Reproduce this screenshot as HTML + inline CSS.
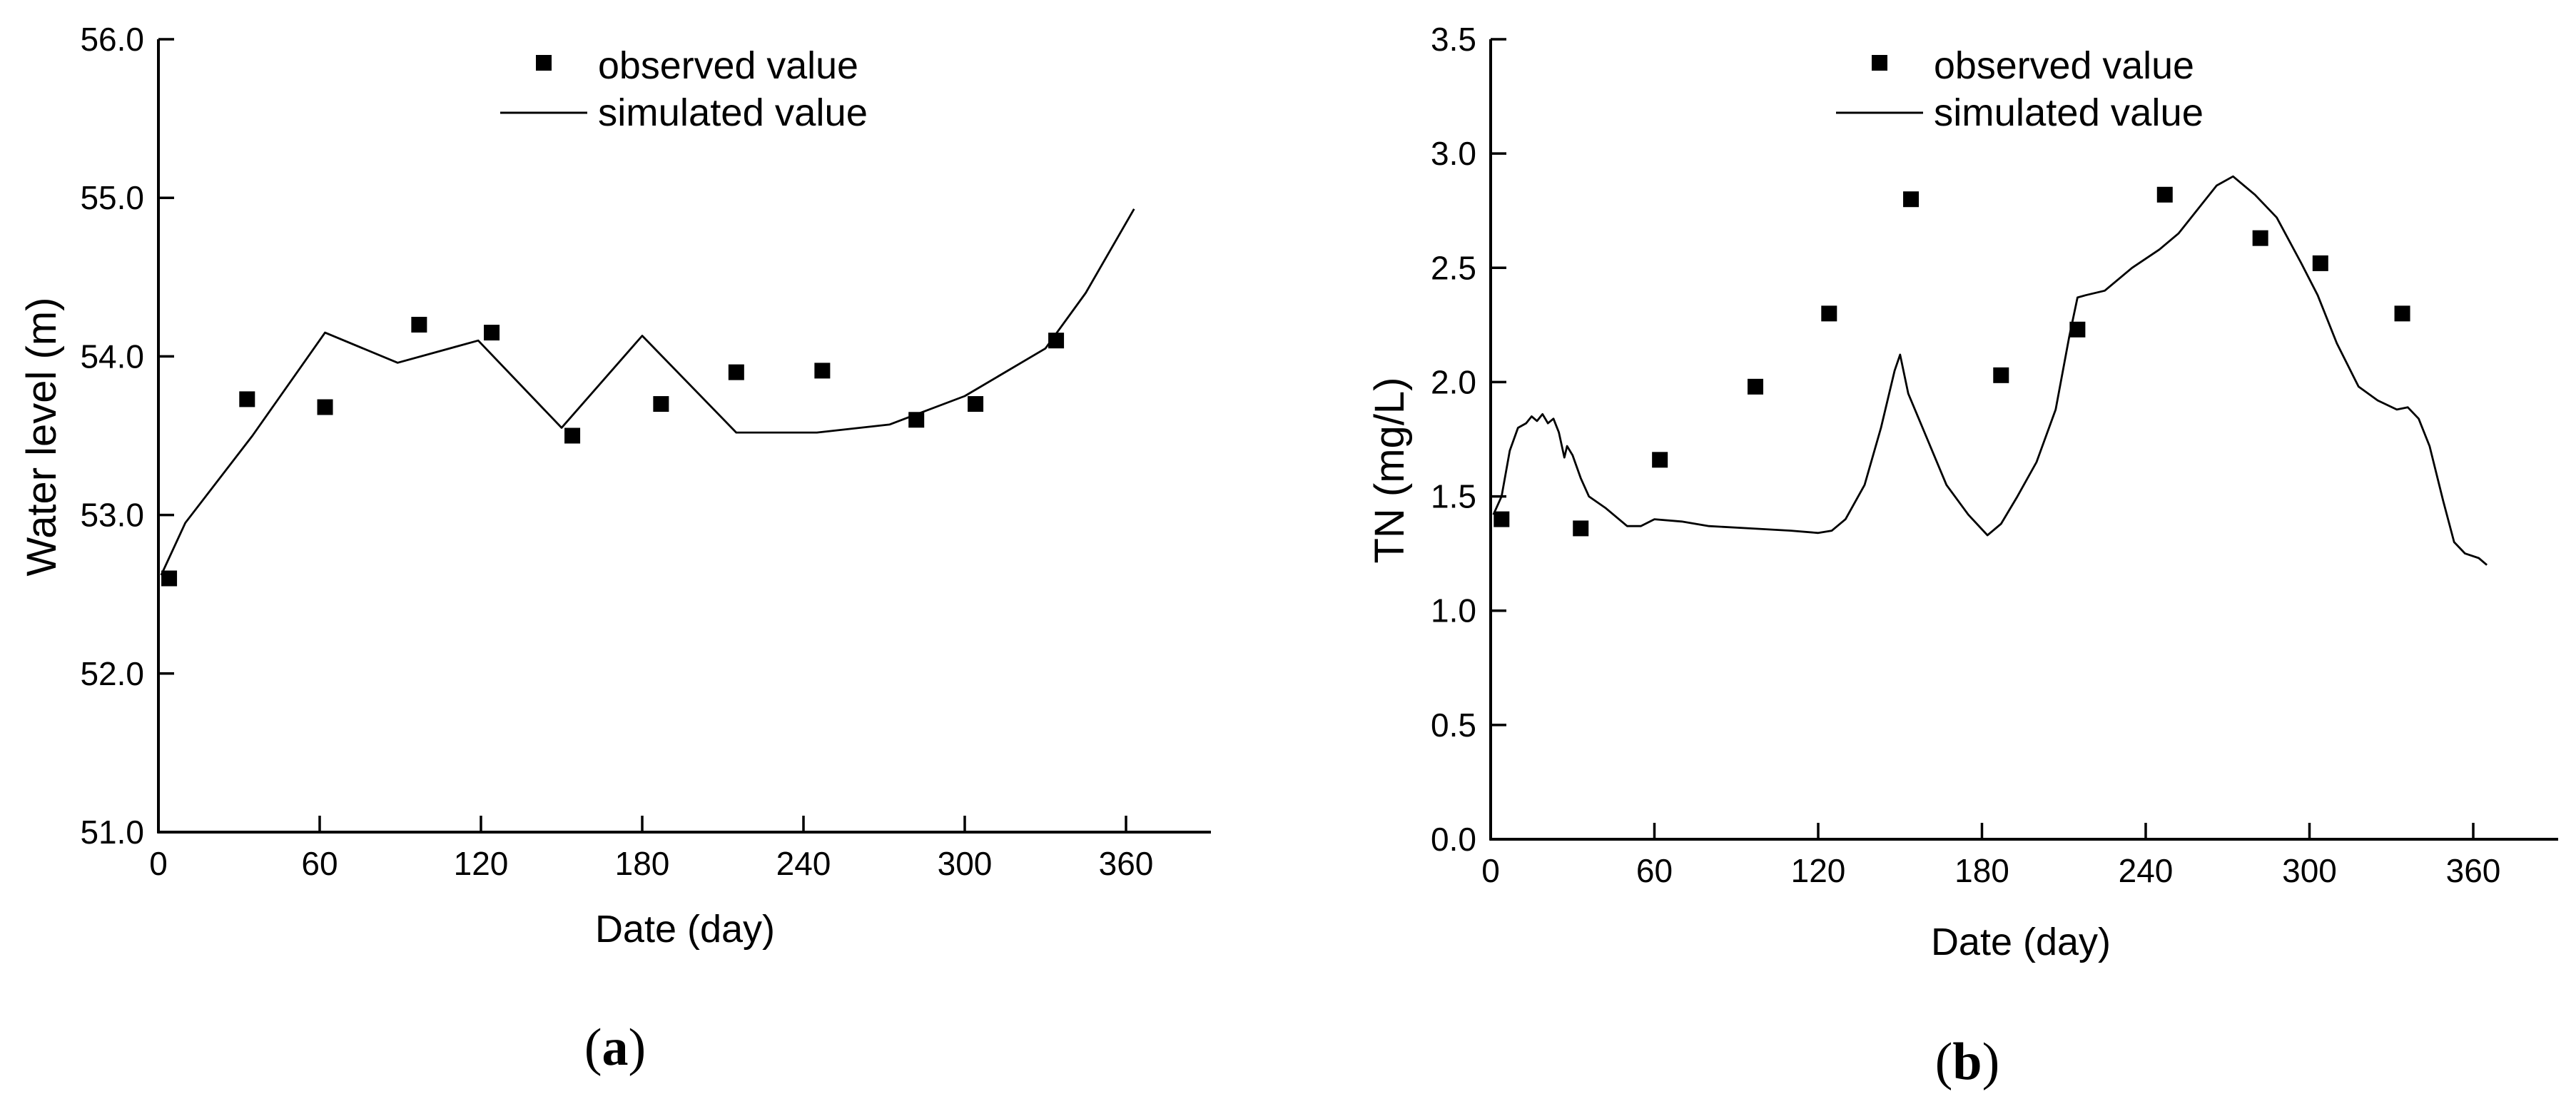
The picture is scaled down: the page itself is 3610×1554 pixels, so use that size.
<!DOCTYPE html>
<html><head><meta charset="utf-8"><style>
html,body{margin:0;padding:0;background:#fff;}
svg{display:block;}
text{font-family:"Liberation Sans",Arial,sans-serif;fill:#000;}
</style></head><body>
<svg id="fig" width="3610" height="1554" viewBox="0 0 3610 1554" xmlns="http://www.w3.org/2000/svg"></svg>
<script>
// Panel (a) data
const aObsDays = [4,33,62,97,124,154,187,215,247,282,304,334];
const aObsVals = [52.6,53.73,53.68,54.2,54.15,53.5,53.7,53.9,53.91,53.6,53.7,54.1];
const aSimDays = [1,10,35,62,89,119,150,180,215,245,272,300,330,345,363];
const aSimVals = [52.62,52.95,53.5,54.15,53.96,54.1,53.55,54.13,53.52,53.52,53.57,53.75,54.05,54.4,54.93];
const aYTicks = [51.0,52.0,53.0,54.0,55.0,56.0];
const xTicks = [0,60,120,180,240,300,360];
// Panel (b) data
const bObsDays = [4,33,62,97,124,154,187,215,247,282,304,334];
const bObsVals = [1.4,1.36,1.66,1.98,2.3,2.8,2.03,2.23,2.82,2.63,2.52,2.3];
const bSimDays = [1,4,7,10,13,15,17,19,21,23,25,27,28,30,33,36,42,50,55,60,70,80,95,110,120,125,130,137,143,148,150,153,160,167,175,182,187,193,200,207,212,215,218,225,235,245,252,260,266,272,280,288,297,303,310,318,325,332,336,340,344,349,353,357,362,365];
const bSimVals = [1.42,1.5,1.7,1.8,1.82,1.85,1.83,1.86,1.82,1.84,1.78,1.67,1.72,1.68,1.58,1.5,1.45,1.37,1.37,1.4,1.39,1.37,1.36,1.35,1.34,1.35,1.4,1.55,1.8,2.05,2.12,1.95,1.75,1.55,1.42,1.33,1.38,1.5,1.65,1.88,2.2,2.37,2.38,2.4,2.5,2.58,2.65,2.77,2.86,2.9,2.82,2.72,2.52,2.38,2.17,1.98,1.92,1.88,1.89,1.84,1.72,1.48,1.3,1.25,1.23,1.2];
const bYTicks = [0.0,0.5,1.0,1.5,2.0,2.5,3.0,3.5];

const NS = "http://www.w3.org/2000/svg";
const svg = document.getElementById('fig');
function mk(tag, attrs, parent, txt){
  const e = document.createElementNS(NS, tag);
  for (const k in attrs) e.setAttribute(k, attrs[k]);
  if (txt !== undefined) e.textContent = txt;
  (parent||svg).appendChild(e);
  return e;
}

function panel(cfg){
  const g = mk('g', {});
  
  
  const X = d => cfg.x0 + (d - 0) * (cfg.x360 - cfg.x0) / 360;
  const Y = v => cfg.yBot + (v - cfg.yMin) * (cfg.yTop - cfg.yBot) / (cfg.yMax - cfg.yMin);
  const yAx = mk('line', {x1:cfg.x0, y1:cfg.yTop, x2:cfg.x0, y2:cfg.yBot+1.5, stroke:'#000','stroke-width':4}, g);
  
  
  const xAx = mk('line', {x1:cfg.x0-1.5, y1:cfg.yBot, x2:cfg.xEnd, y2:cfg.yBot, stroke:'#000','stroke-width':4}, g);
  
  
  cfg.yTicks.forEach(v => {
    const t = mk('line', {x1:cfg.x0, y1:Y(v), x2:cfg.x0+22, y2:Y(v), stroke:'#000','stroke-width':3.5}, g);
    
    
    const l = mk('text', {x:cfg.x0-20, y:Y(v)+16, 'font-size':46, 'text-anchor':'end'}, g, v.toFixed(1));
    
    
  });
  xTicks.forEach(d => {
    if (d > 0) {
      const t = mk('line', {x1:X(d), y1:cfg.yBot, x2:X(d), y2:cfg.yBot-23, stroke:'#000','stroke-width':3.5}, g);
      
      
    }
    const l = mk('text', {x:X(d), y:cfg.yBot+60, 'font-size':46, 'text-anchor':'middle'}, g, String(d));
    
    
  });
  const pts = cfg.simD.map((d,i) => X(d).toFixed(1)+','+Y(cfg.simV[i]).toFixed(1)).join(' ');
  const pl = mk('polyline', {points:pts, fill:'none', stroke:'#000','stroke-width':2.8,'stroke-linejoin':'round'}, g);
  
  
  cfg.obsD.forEach((d,i) => {
    const r = mk('rect', {x:X(d)-11, y:Y(cfg.obsV[i])-11, width:22, height:22, fill:'#000'}, g);
    
    
  });
  const lx = cfg.legX;
  const m = mk('rect', {x:lx+50, y:77, width:22, height:22, fill:'#000'}, g);
  
  
  const t1 = mk('text', {x:lx+137, y:110, 'font-size':54, textLength:365, lengthAdjust:'spacingAndGlyphs'}, g, 'observed value');
  
  
  const ll = mk('line', {x1:lx, y1:158, x2:lx+122, y2:158, stroke:'#000','stroke-width':3}, g);
  
  
  const t2 = mk('text', {x:lx+137, y:176, 'font-size':54, textLength:378, lengthAdjust:'spacingAndGlyphs'}, g, 'simulated value');
  
  
  const xt = mk('text', {x:cfg.xtX, y:cfg.xtY, 'font-size':54, 'text-anchor':'middle'}, g, 'Date (day)');
  
  
  const yt = mk('text', {x:0, y:0, 'font-size':58, 'text-anchor':'middle', transform:`translate(${cfg.ytX},${cfg.ytY}) rotate(-90)`}, g, cfg.yTitle);
  
  
  const cap = mk('text', {x:cfg.capX, y:cfg.capY, 'font-size':74, 'text-anchor':'middle', style:'font-family:"Liberation Serif",serif'}, g);
  
  
  mk('tspan', {}, cap, '(');
  mk('tspan', {'font-weight':'bold'}, cap, cfg.cap);
  mk('tspan', {}, cap, ')');
}

panel({name:'chart-water-level', x0:222, x360:1578, xEnd:1697, yTop:55, yBot:1166, yMin:51, yMax:56,
  yTicks:aYTicks, obsD:aObsDays, obsV:aObsVals, simD:aSimDays, simV:aSimVals, legX:701,
  xtX:960, xtY:1320, ytX:78, ytY:612, yTitle:'Water level (m)', capX:862, capY:1492, cap:'a'});
panel({name:'chart-tn', x0:2089, x360:3466, xEnd:3585, yTop:55, yBot:1176, yMin:0, yMax:3.5,
  yTicks:bYTicks, obsD:bObsDays, obsV:bObsVals, simD:bSimDays, simV:bSimVals, legX:2573,
  xtX:2832, xtY:1338, ytX:1967, ytY:659, yTitle:'TN (mg/L)', capX:2757, capY:1512, cap:'b'});
</script>
</body></html>
